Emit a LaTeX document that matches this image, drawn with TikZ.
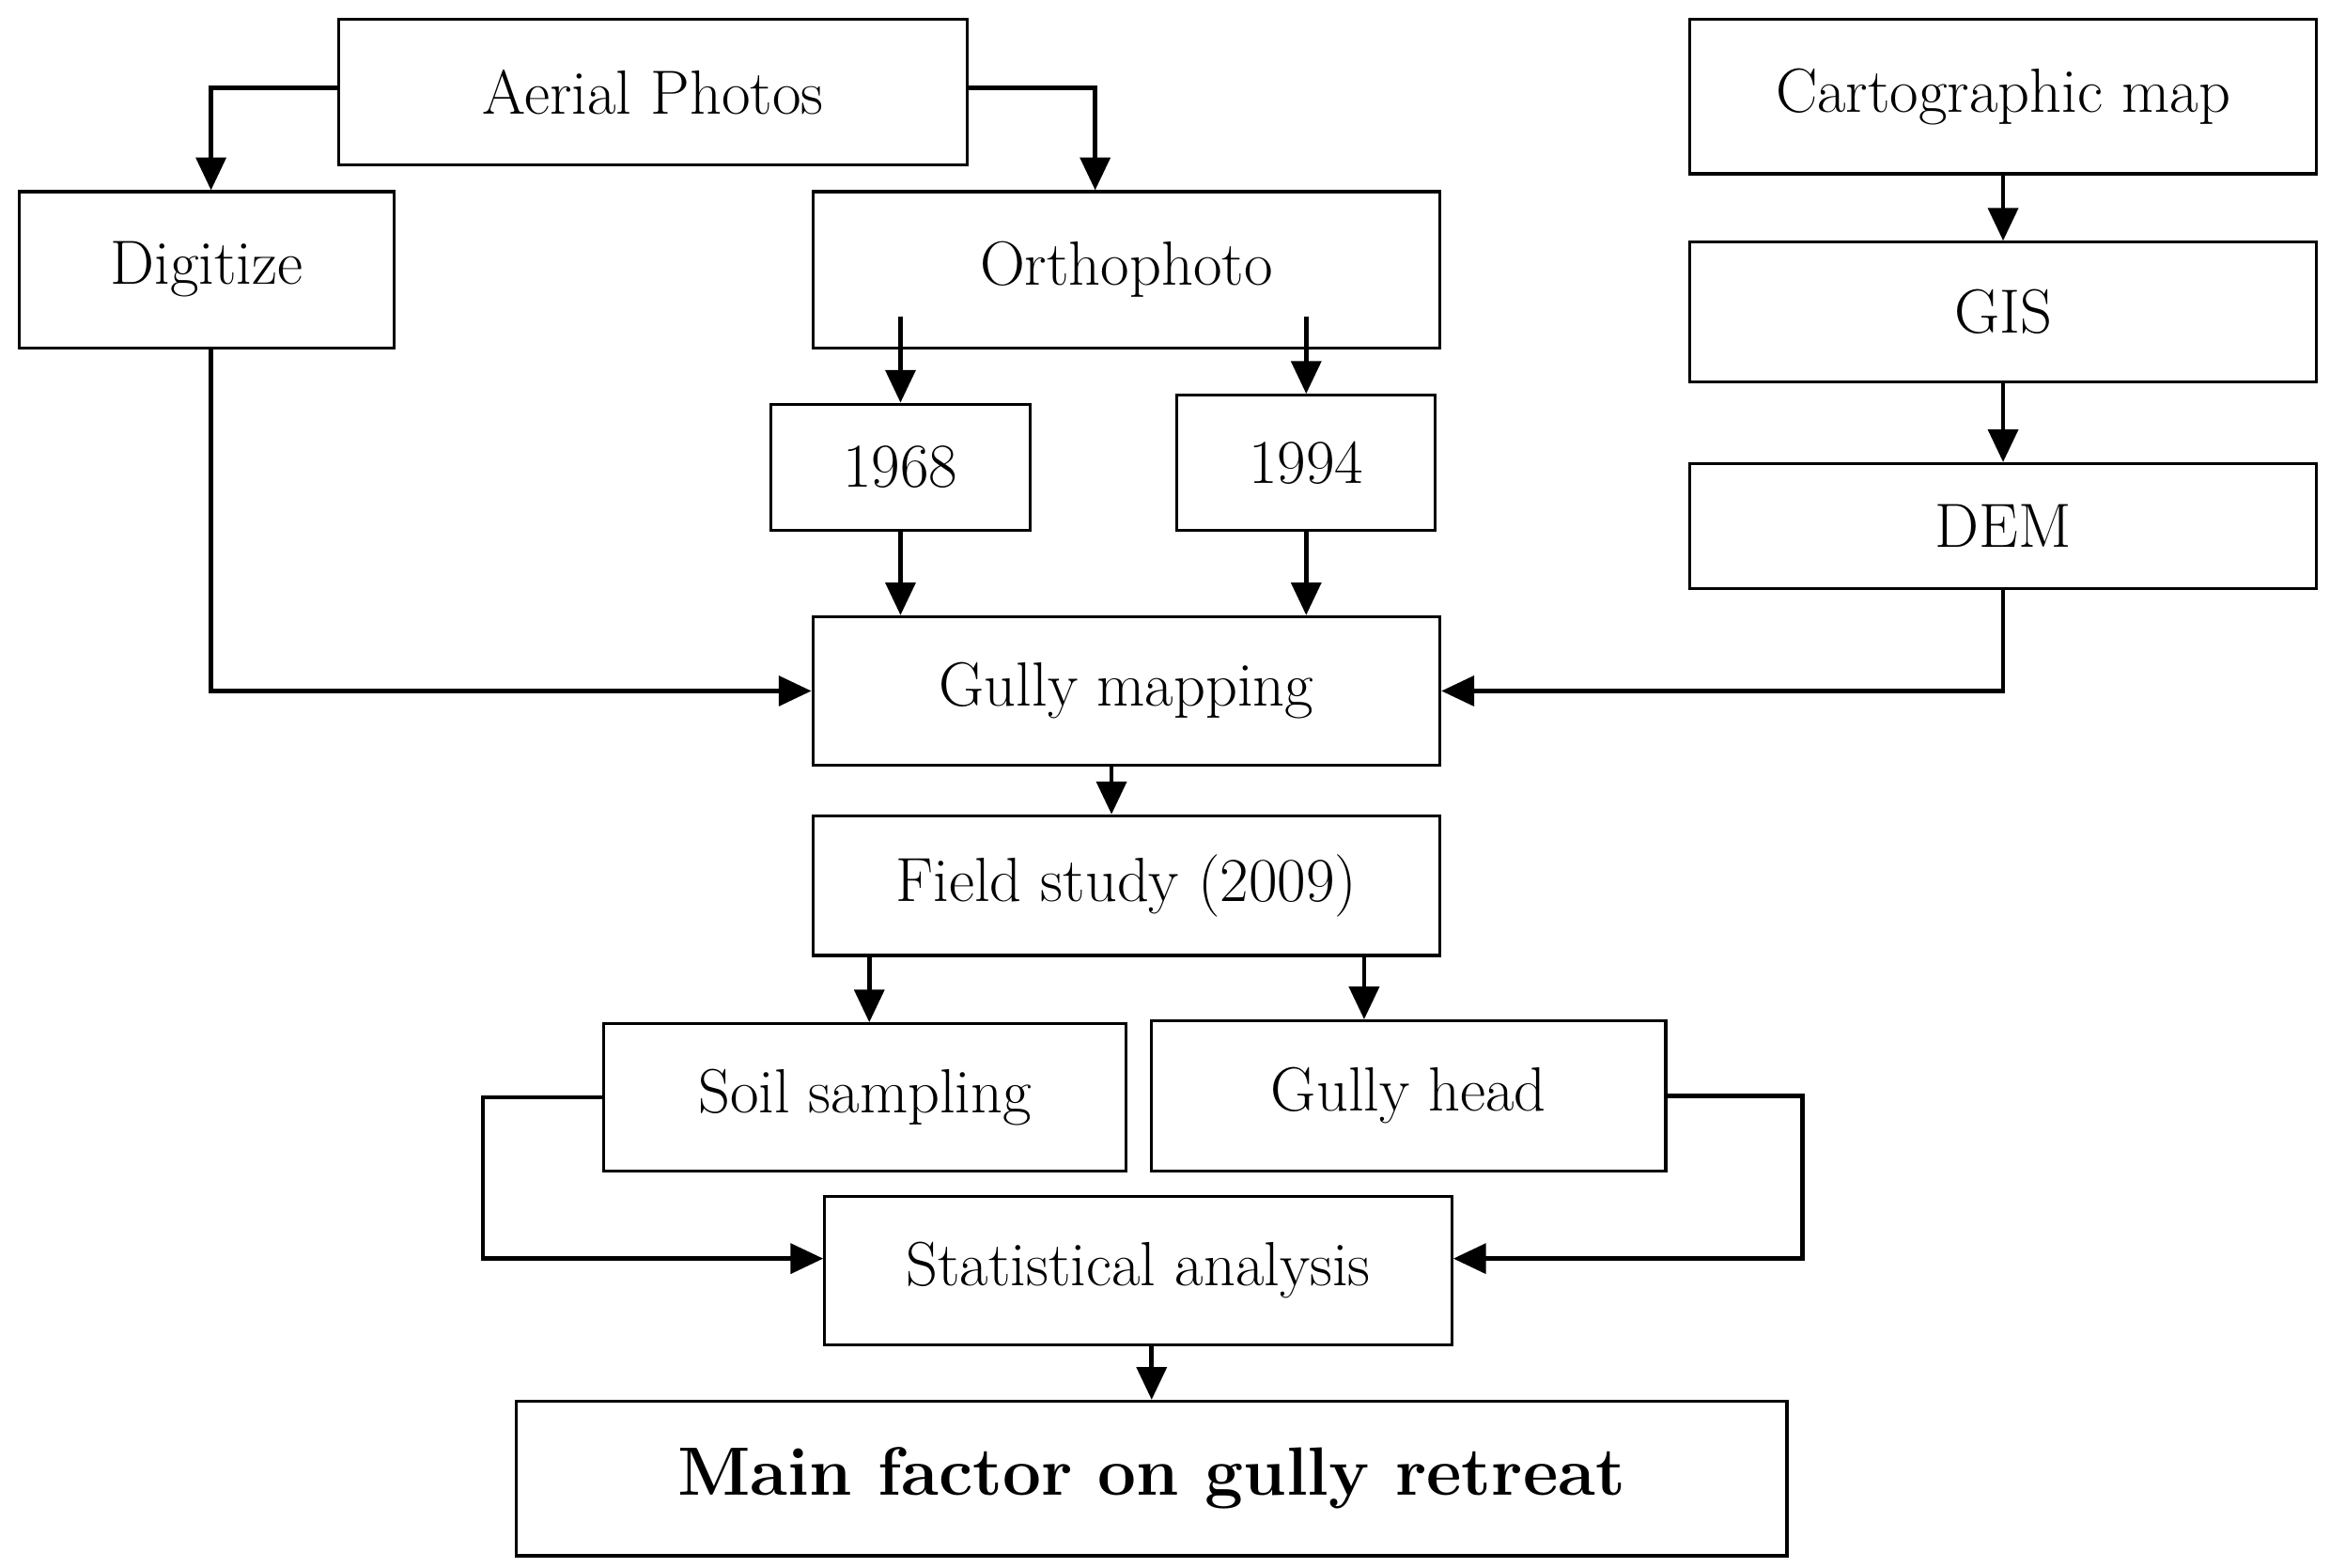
\documentclass[tikz,border=0pt]{standalone}
\usetikzlibrary{arrows.meta,calc}
\begin{document}
\begin{tikzpicture}[x=0.5pt,y=-0.5pt,
  box/.style={draw,line width=1pt,inner sep=0pt,font=\fontsize{21}{25}\selectfont},
  ar/.style={line width=1.5pt,-{Triangle[width=10pt,length=11pt]}}]
\newcommand\bx[6]{\node[box,minimum width={(#4-#2)*0.5pt},minimum height={(#5-#3)*0.5pt}] (#1) at ({(#2+#4)/2},{(#3+#5)/2}) {#6};}
\useasboundingbox (0,0) rectangle (1568,1055);
\bx{aer}{228}{13}{651}{111}{Aerial Photos}
\bx{dig}{13}{129}{265}{234}{Digitize}
\bx{ort}{547}{129}{969}{234}{Orthophoto}
\bx{a68}{519}{272}{693}{357}{1968}
\bx{a94}{792}{266}{966}{357}{1994}
\bx{car}{1137}{13}{1559}{117}{Cartographic map}
\bx{gis}{1137}{163}{1559}{257}{GIS}
\bx{dem}{1137}{312}{1559}{396}{DEM}
\bx{gm}{547}{415}{969}{515}{Gully mapping}
\bx{fs}{547}{549}{969}{643}{Field study (2009)}
\bx{soil}{406}{689}{758}{788}{Soil sampling}
\bx{gh}{775}{687}{1121}{788}{Gully head}
\bx{st}{555}{805}{977}{905}{Statistical analysis}
\node[box,font=\fontsize{23}{27}\selectfont\bfseries,minimum width={855*0.5pt},minimum height={104*0.5pt}] (mf) at (775,995) {Main factor on gully retreat};
\coordinate (dl) at (142,59); \coordinate (dr) at (737,59);
\draw[ar] (aer.west |- dl) -| (dig.north -| dl);
\draw[ar] (aer.east |- dr) -| (ort.north -| dr);
\draw[ar] ([yshift=11pt]a68.north |- ort.south) -- (a68.north);
\draw[ar] ([yshift=11pt]a94.north |- ort.south) -- (a94.north);
\draw[ar] (a68.south) -- (a68.south |- gm.north);
\draw[ar] (a94.south) -- (a94.south |- gm.north);
\draw[ar] (dig.south -| dl) |- (gm.west);
\draw[ar] (dem.south) |- (gm.east);
\draw[ar] (car) -- (gis);
\draw[ar] (gis) -- (dem);
\coordinate (c1) at (748,0);
\draw[ar] (gm.south -| c1) -- (fs.north -| c1);
\coordinate (c2) at (585,0); \coordinate (c3) at (918,0);
\draw[ar] (fs.south -| c2) -- (soil.north -| c2);
\draw[ar] (fs.south -| c3) -- (gh.north -| c3);
\coordinate (l) at (325,847); \coordinate (r) at (1213,847);
\draw[ar] (soil.west) -| (l) -- (st.west |- l);
\draw[ar] (gh.east) -| (r) -- (st.east |- r);
\draw[ar] (st.south -| mf.north) -- (mf.north);
\end{tikzpicture}
\end{document}
